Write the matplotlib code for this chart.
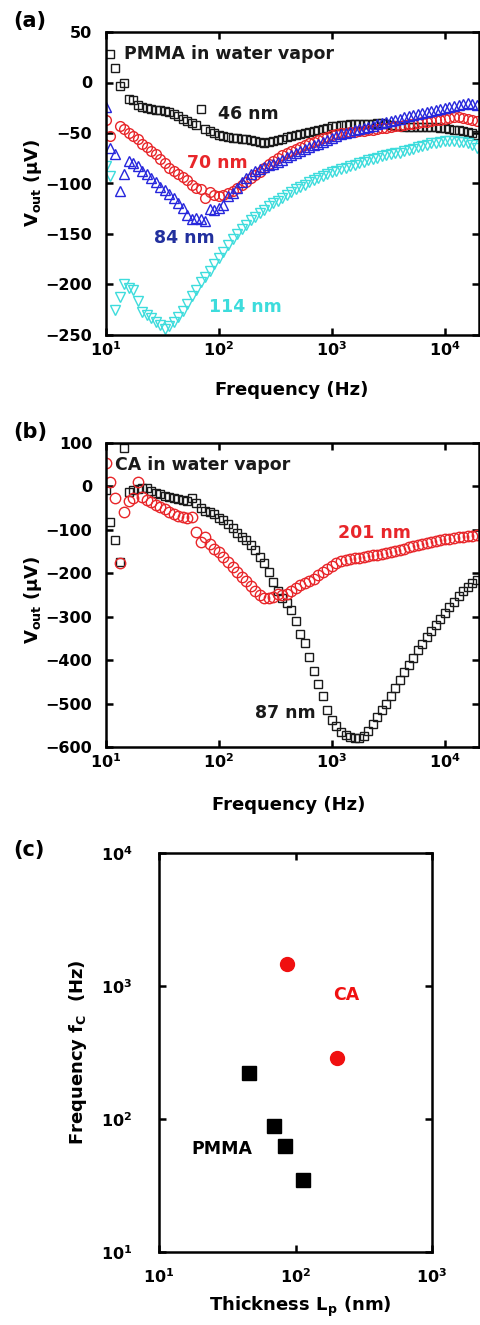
import numpy as np
import matplotlib
matplotlib.use("Agg")
import matplotlib.pyplot as plt

plt.rcParams['font.family'] = ['DejaVu Sans']
plt.rcParams['font.weight'] = 'bold'
plt.rcParams['mathtext.default'] = 'bf'

nan = np.nan

# measurement frequencies (Hz), shared by all spectra
freq = [10, 10.96, 12.02, 13.18, 14.45, 15.85, 17.38, 19.05, 20.89, 22.91,
        25.12, 27.54, 30.2, 33.11, 36.31, 39.81, 43.65, 47.86, 52.48, 57.54,
        63.1, 69.18, 75.86, 83.18, 91.2, 100, 109.6, 120.2, 131.8, 144.5,
        158.5, 173.8, 190.5, 208.9, 229.1, 251.2, 275.4, 302, 331.1, 363.1,
        398.1, 436.5, 478.6, 524.8, 575.4, 631, 691.8, 758.6, 831.8, 912,
        1000, 1096, 1202, 1318, 1445, 1585, 1738, 1905, 2089, 2291,
        2512, 2754, 3020, 3311, 3631, 3981, 4365, 4786, 5248, 5754,
        6310, 6918, 7586, 8318, 9120, 10000, 10960, 12020, 13180, 14450,
        15850, 17380, 19050]

# (a) PMMA in water vapor, Vout (uV)
pmma_46 = [nan, 28, 14, -3, 0, -16, -17, -22, -24, -25,
           -26, -27, -27, -28, -29, -31, -33, -36, -38, -40,
           -42, -26, -46, -48, -50, -52, -53, -54, -55, -55,
           -56, -56, -57, -58, -59, -60, -59, -58, -57, -56,
           -54, -53, -52, -51, -50, -49, -48, -47, -46, -45,
           -43, -43, -42, -42, -41, -41, -41, -41, -41, -41,
           -40, -40, -41, -42, -43, -43, -44, -44, -44, -44,
           -44, -44, -44, -44, -45, -45, -46, -47, -47, -48,
           -49, -50, -52]
pmma_70 = [-37, -53, nan, -43, -46, -50, -53, -56, -61, -64,
           -68, -71, -76, -80, -85, -88, -91, -94, -97, -101,
           -104, -105, -114, -108, -111, -112, -111, -109, -107, -104,
           -101, -99, -95, -92, -89, -85, -81, -78, -75, -72,
           -70, -68, -66, -64, -62, -60, -59, -57, -55, -54,
           -52, -51, -50, -50, -49, -49, -48, -48, -47, -47,
           -46, -45, -45, -44, -43, -43, -42, -41, -41, -40,
           -39, -39, -38, -37, -37, -36, -35, -34, -34, -35,
           -36, -37, -38]
pmma_84 = [-24, -65, -71, -107, -91, -78, -80, -83, -88, -91,
           -95, -99, -103, -106, -110, -114, -119, -124, -131, -135,
           -134, -135, -137, -125, -126, -124, -121, -112, -109, -104,
           -99, -95, -91, -88, -86, -84, -82, -81, -79, -77,
           -74, -72, -70, -68, -66, -64, -62, -61, -59, -57,
           -55, -53, -51, -50, -49, -47, -46, -45, -44, -43,
           -41, -40, -39, -38, -37, -36, -34, -33, -32, -31,
           -30, -29, -28, -27, -26, -25, -24, -23, -22, -21,
           -20, -21, -22]
pmma_114 = [-83, -93, -225, -212, -200, -203, -205, -216, -227, -230,
            -233, -237, -240, -244, -241, -237, -232, -226, -219, -211,
            -205, -198, -193, -187, -180, -174, -168, -161, -155, -150,
            -145, -141, -136, -133, -129, -126, -122, -119, -117, -114,
            -111, -108, -105, -103, -101, -99, -97, -95, -93, -91,
            -89, -88, -86, -85, -83, -82, -80, -79, -77, -76,
            -75, -73, -72, -71, -70, -70, -68, -67, -66, -64,
            -63, -62, -60, -60, -59, -58, -58, -58, -59, -59,
            -60, -62, -65]

# (b) CA in water vapor, Vout (uV)
ca_87 = [-8, -82, -124, -174, 88, -12, -9, -6, -3, -4,
         -11, -15, -18, -21, -24, -26, -28, -31, -33, -27,
         -38, -50, -57, -60, -64, -72, -77, -86, -96, -108,
         -117, -124, -135, -146, -162, -177, -198, -219, -240, -256,
         -269, -285, -310, -339, -360, -393, -425, -455, -482, -515,
         -538, -552, -566, -573, -577, -579, -580, -575, -564, -546,
         -530, -515, -500, -482, -463, -446, -428, -411, -394, -377,
         -363, -347, -333, -319, -306, -292, -278, -265, -252, -241,
         -231, -223, -215]
ca_201 = [53, 11, -27, -177, -60, -33, -27, 11, -25, -31,
          -37, -43, -48, -52, -58, -63, -68, -71, -73, -70,
          -105, -127, -116, -132, -143, -152, -163, -174, -186, -197,
          -208, -218, -229, -240, -249, -256, -258, -254, -247, -251,
          -248, -240, -234, -228, -223, -218, -213, -205, -197, -190,
          -183, -177, -172, -169, -166, -165, -164, -163, -161, -159,
          -157, -155, -153, -151, -148, -146, -143, -140, -137, -135,
          -133, -130, -128, -126, -124, -122, -120, -119, -117, -116,
          -115, -114, -112]

# (c) characteristic frequency vs thickness
pmma_thick = [46, 70, 84, 114]
pmma_fc = [220, 89, 63, 35]
ca_thick = [87, 201]
ca_fc = [1460, 290]

RED = '#e8262a'
BLUE = '#2626dc'
NAVY = '#22309e'
CYAN = '#3ddcdc'
BLACK = '#1a1a1a'

W, H = 480, 1325
fig = plt.figure(figsize=(W / 100, H / 100), dpi=100)


def px_axes(l, t, r, b):
    return fig.add_axes([l / W, 1 - b / H, (r - l) / W, (b - t) / H])


def style(ax, ypad=10, xpad=4):
    for s in ax.spines.values():
        s.set_linewidth(1.8)
    ax.tick_params(which='major', direction='in', top=True, right=True,
                   length=5, width=1.8, labelsize=11.5)
    ax.tick_params(axis='y', pad=ypad)
    ax.tick_params(axis='x', pad=xpad)
    ax.minorticks_off()


dec_labels = {10: r'$10^{1}$', 100: r'$10^{2}$', 1000: r'$10^{3}$', 10000: r'$10^{4}$'}

# ---- (a)
ax1 = px_axes(106, 32, 479, 335)
mk = dict(ls='none', mfc='none', mew=1.0)
ax1.plot(freq, pmma_46, marker='s', ms=5.5, mec=BLACK, **mk)
ax1.plot(freq, pmma_70, marker='o', ms=7, mec=RED, **mk)
ax1.plot(freq, pmma_84, marker='^', ms=7.5, mec=BLUE, **mk)
ax1.plot(freq, pmma_114, marker='v', ms=7.5, mec=CYAN, **mk)
ax1.set_xscale('log')
ax1.set_xlim(10, 20000)
ax1.set_ylim(-250, 50)
ax1.set_yticks([50, 0, -50, -100, -150, -200, -250])
ax1.set_xticks(list(dec_labels))
ax1.set_xticklabels(list(dec_labels.values()))
style(ax1)
ax1.text(14.4, 28, 'PMMA in water vapor', fontsize=12.5, va='center', color=BLACK)
ax1.text(97, -31, '46 nm', fontsize=12.5, va='center', color=BLACK)
ax1.text(52, -80, '70 nm', fontsize=12.5, va='center', color=RED)
ax1.text(26.6, -154, '84 nm', fontsize=12.5, va='center', color=NAVY)
ax1.text(81.6, -222, '114 nm', fontsize=12.5, va='center', color=CYAN)

# ---- (b)
ax2 = px_axes(106, 443, 479, 747)
ax2.plot(freq, ca_87, marker='s', ms=6, mec=BLACK, **mk)
ax2.plot(freq, ca_201, marker='o', ms=7.5, mec=RED, **mk)
ax2.set_xscale('log')
ax2.set_xlim(10, 20000)
ax2.set_ylim(-600, 100)
ax2.set_yticks([100, 0, -100, -200, -300, -400, -500, -600])
ax2.set_xticks(list(dec_labels))
ax2.set_xticklabels(list(dec_labels.values()))
style(ax2)
ax2.text(12.0, 49, 'CA in water vapor', fontsize=12.5, va='center', color=BLACK)
ax2.text(1125, -107, '201 nm', fontsize=12.5, va='center', color=RED)
ax2.text(208, -522, '87 nm', fontsize=12.5, va='center', color=BLACK)

# ---- (c)
ax3 = px_axes(159, 853, 432, 1252)
ax3.plot(pmma_thick, pmma_fc, ls='none', marker='s', ms=10, color='black')
ax3.plot(ca_thick, ca_fc, ls='none', marker='o', ms=10, color='#f01010')
ax3.set_xscale('log')
ax3.set_yscale('log')
ax3.set_xlim(10, 1000)
ax3.set_ylim(10, 10000)
ax3.set_xticks([10, 100, 1000])
ax3.set_xticklabels([r'$10^{1}$', r'$10^{2}$', r'$10^{3}$'])
ax3.set_yticks([10, 100, 1000, 10000])
ax3.set_yticklabels([r'$10^{1}$', r'$10^{2}$', r'$10^{3}$', r'$10^{4}$'])
style(ax3, ypad=19, xpad=11)
ax3.text(188, 855, 'CA', fontsize=12.5, va='center', color='#f01010')
ax3.text(17.2, 59.4, 'PMMA', fontsize=12.5, va='center', color='black')

# labels
def ftext(x, y, s, **kw):
    fig.text(x / W, 1 - y / H, s, ha='center', va='center', **kw)

ftext(292, 390, 'Frequency (Hz)', fontsize=13)
ftext(33, 183, r'V$_{out}$ (μV)', fontsize=13, rotation=90)
ftext(289, 805, 'Frequency (Hz)', fontsize=13)
ftext(33, 600, r'V$_{out}$ (μV)', fontsize=13, rotation=90)
ftext(300, 1307, r'Thickness L$_{p}$ (nm)', fontsize=13)
ftext(78, 1052, r'Frequency f$_{C}$  (Hz)', fontsize=13, rotation=90)

fig.text(13 / W, 1 - 21 / H, '(a)', fontsize=15, va='center')
fig.text(13 / W, 1 - 432 / H, '(b)', fontsize=15, va='center')
fig.text(13 / W, 1 - 850 / H, '(c)', fontsize=15, va='center')

fig.savefig('out.png', dpi=100)
